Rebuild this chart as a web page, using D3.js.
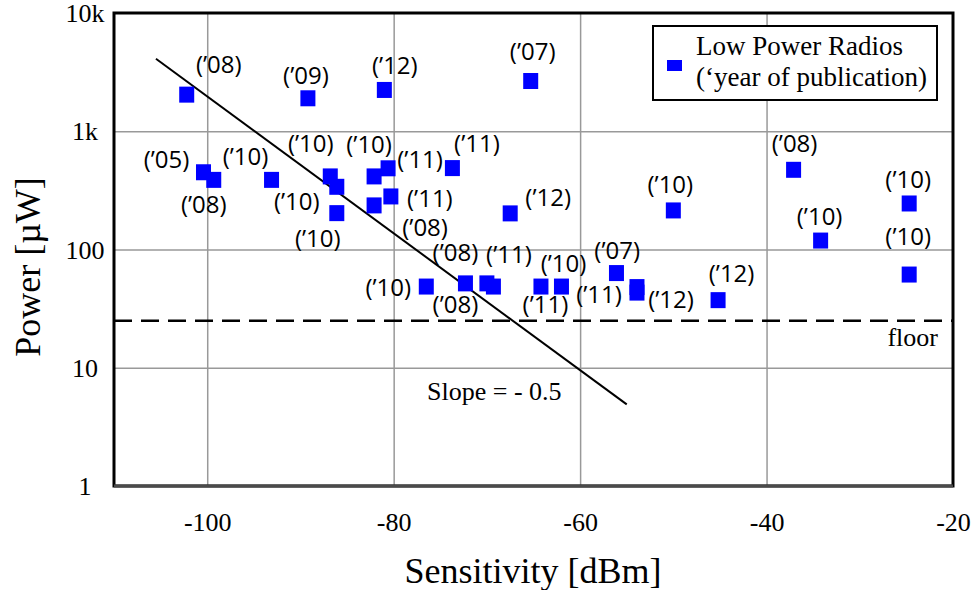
<!DOCTYPE html>
<html>
<head>
<meta charset="utf-8">
<script src="https://cdn.jsdelivr.net/npm/d3@7"></script>
<style>
  body { margin: 0; background: #fff; }
  .serif { font-family: "Liberation Serif", "Times New Roman", serif; fill: #000; }
  .lbl { font-family: "Open Sans", "Liberation Sans", sans-serif; font-size: 24px; fill: #000; }
</style>
</head>
<body>
<svg id="chart" width="972" height="590"></svg>
<script>
// sensitivity [dBm], power [µW], year of publication
const sensitivity = [-102.2, -89.2, -81.0, -65.3, -100.4, -99.3, -93.1, -86.8, -86.1, -86.1,
  -82.1, -80.6, -82.1, -80.3, -73.7, -67.5, -76.5, -72.3, -70.0, -69.3,
  -64.2, -62.0, -56.1, -53.9, -53.9, -50.0, -45.2, -37.1, -34.2, -24.7, -24.7];
const power = [2040, 1900, 2235, 2660, 450, 388, 388, 415, 339, 203,
  415, 486, 236, 281, 488, 202, 48.6, 51.7, 51.7, 48.6,
  48.6, 48.6, 63.2, 48.1, 43.2, 214, 37.3, 472, 119, 245, 61.4];
const years = ["08", "09", "12", "07", "05", "08", "10", "10", "10", "10",
  "10", "11", "08", "11", "11", "12", "10", "08", "11", "08",
  "11", "10", "07", "11", "12", "10", "12", "08", "10", "10", "10"];
// label placement relative to its marker (px)
const labelDx = [32, -2, 10.5, 2, -37, -10, -26, -19.5, -40, -19,
  -5, 32, 51, 39, 24.5, 38, -38, -10, 22, -38,
  4.5, 2, 0.7, -38, 34, -3, 13.5, 1, -1, -1, -1];
const labelDy = [-28.5, -21, -22, -27, -11, 27, -21.5, -31, 16.5, 27,
  -30, -7, 24, 4, -23, -14, 3, -29, -27, 20,
  20, -21, -21, 9, 9, -23.5, -24.5, -24.5, -22, -22, -36];

const xTicks = [-100, -80, -60, -40, -20];
const yTicks = [1, 10, 100, 1000, 10000];
const yTickLabels = ["1", "10", "100", "1k", "10k"];
const floorPower = 25;
const slopeSens = [-105.5, -55];
const slopePower = [4100, 4.9];

const svg = d3.select("#chart");
const x = d3.scaleLinear().domain([-110, -20]).range([114, 953]);
const y = d3.scaleLog().domain([1, 10000]).range([486, 13]);
const [x0, x1] = x.range();
const [y0, y1] = y.range();

// gridlines
svg.append("g")
  .attr("transform", `translate(0,${y0})`)
  .call(d3.axisBottom(x).tickValues(xTicks.slice(0, -1)).tickSize(-(y0 - y1)).tickFormat(""))
  .call(g => g.select(".domain").remove())
  .call(g => g.selectAll("line").attr("stroke", "#999").attr("stroke-width", 1.5));
svg.append("g")
  .attr("transform", `translate(${x0},0)`)
  .call(d3.axisLeft(y).tickValues(yTicks.slice(1, -1)).tickSize(-(x1 - x0)).tickFormat(""))
  .call(g => g.select(".domain").remove())
  .call(g => g.selectAll("line").attr("stroke", "#999").attr("stroke-width", 1.5));

// tick labels (plain hyphen for negatives)
svg.append("g")
  .attr("transform", `translate(0,${y0})`)
  .call(d3.axisBottom(x).tickValues(xTicks).tickSize(0).tickFormat(d => String(d)))
  .call(g => g.select(".domain").remove())
  .call(g => g.selectAll("text").attr("class", "serif").attr("font-size", 26)
    .attr("y", 45).attr("dy", 0));
svg.append("g")
  .attr("transform", `translate(${x0},0)`)
  .call(d3.axisLeft(y).tickValues(yTicks).tickSize(0).tickFormat((d, i) => yTickLabels[i]))
  .call(g => g.select(".domain").remove())
  .call(g => g.selectAll("text").attr("class", "serif").attr("font-size", 26)
    .attr("text-anchor", "middle").attr("x", -29).attr("dy", "0.33em"));

// floor line
svg.append("line")
  .attr("x1", x0).attr("x2", x1)
  .attr("y1", y(floorPower)).attr("y2", y(floorPower))
  .attr("stroke", "#000").attr("stroke-width", 2.5).attr("stroke-dasharray", "18,9");
svg.append("text").attr("class", "serif").attr("font-size", 26)
  .attr("x", 938).attr("y", y(floorPower) + 25).attr("text-anchor", "end").text("floor");

// slope line
svg.append("path")
  .datum(d3.zip(slopeSens, slopePower))
  .attr("d", d3.line().x(d => x(d[0])).y(d => y(d[1])))
  .attr("stroke", "#000").attr("stroke-width", 2).attr("fill", "none");
svg.append("text").attr("class", "serif").attr("font-size", 26)
  .attr("x", 427).attr("y", 400).text("Slope = - 0.5");

// markers
const idx = d3.range(sensitivity.length);
svg.append("g").selectAll("rect").data(idx).join("rect")
  .attr("x", i => x(sensitivity[i]) - 7.5)
  .attr("y", i => y(power[i]) - 8)
  .attr("width", 15).attr("height", 16)
  .attr("fill", "#0000ff");

// year labels
svg.append("g").selectAll("text").data(idx).join("text")
  .attr("class", "lbl")
  .attr("x", i => x(sensitivity[i]) + labelDx[i])
  .attr("y", i => y(power[i]) + labelDy[i])
  .attr("dy", "0.27em")
  .attr("text-anchor", "middle")
  .text(i => `(\u2019${years[i]})`);

// frame
svg.append("rect")
  .attr("x", x0).attr("y", y1).attr("width", x1 - x0).attr("height", y0 - y1)
  .attr("fill", "none").attr("stroke", "#000").attr("stroke-width", 3);
svg.append("line")
  .attr("x1", x0).attr("x2", x1).attr("y1", y0).attr("y2", y0)
  .attr("stroke", "#4a4a4a").attr("stroke-width", 3);

// legend
const legend = svg.append("g");
legend.append("rect").attr("x", 653).attr("y", 26).attr("width", 284).attr("height", 74)
  .attr("fill", "#fff").attr("stroke", "#000").attr("stroke-width", 2);
legend.append("rect").attr("x", 667).attr("y", 60).attr("width", 15).attr("height", 11)
  .attr("fill", "#0000ff");
legend.append("text").attr("class", "serif").attr("font-size", 27)
  .attr("x", 696).attr("y", 55).text("Low Power Radios");
legend.append("text").attr("class", "serif").attr("font-size", 27)
  .attr("x", 696).attr("y", 86).text("(\u2018year of publication)");

// axis titles
svg.append("text").attr("class", "serif").attr("font-size", 36)
  .attr("x", 533).attr("y", 583).attr("text-anchor", "middle").text("Sensitivity [dBm]");
svg.append("text").attr("class", "serif").attr("font-size", 36)
  .attr("transform", "translate(40,267) rotate(-90)")
  .attr("text-anchor", "middle").text("Power [\u00b5W]");
</script>
</body>
</html>
